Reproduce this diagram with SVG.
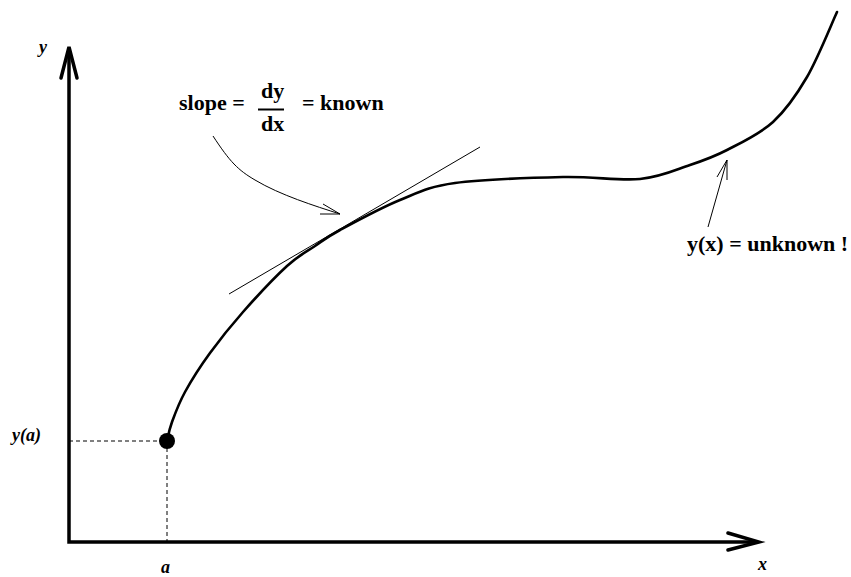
<svg xmlns="http://www.w3.org/2000/svg" width="851" height="577" viewBox="0 0 851 577">
<style>
.lbl{font-family:"Liberation Serif","Times New Roman",serif;font-weight:bold;fill:#000}
.it{font-style:italic;font-size:18px}
.big{font-size:22px}
.thin{fill:none;stroke:#000;stroke-width:1}
.axis{fill:none;stroke:#000;stroke-width:3.5}
.dash{fill:none;stroke:#000;stroke-width:1;stroke-dasharray:4,3}
</style>
<rect width="851" height="577" fill="#fff"/>
<g id="axes">
<path class="axis" d="M69,48 L69,542 L757,542" stroke-linejoin="miter"/>
<path class="axis" d="M61,78 L69,47 L77,78" stroke-linecap="round" stroke-linejoin="miter"/>
<path class="axis" d="M728,533 L759,542 L728,550" stroke-linecap="round" stroke-linejoin="miter"/>
<text class="lbl it" x="39" y="53">y</text>
<text class="lbl it" x="758" y="570">x</text>
</g>
<g id="guides">
<path class="dash" d="M69,441 L167,441"/>
<path class="dash" d="M167,441 L167,542"/>
<text class="lbl it" x="12" y="441">y(a)</text>
<text class="lbl it" x="161" y="573">a</text>
</g>
<g id="curve">
<path fill="none" stroke="#000" stroke-width="2.6" stroke-linecap="round" d="M167,441 C167.8,437.8 169,430.2 172,422 C175,413.8 178.7,403.5 185,392 C191.3,380.5 200.3,366.3 210,353 C219.7,339.7 230.2,326.5 243,312 C255.8,297.5 275,277 287,266 C299,255 306.2,252 315,246 C323.8,240 325.8,237.7 340,230 C354.2,222.3 380.8,207.8 400,200 C419.2,192.2 427.8,186.8 455,183 C482.2,179.2 532.2,177.7 563,177 C593.8,176.3 618.8,181 640,179 C661.2,177 675.5,169.8 690,165 C704.5,160.2 713.2,157.2 727,150 C740.8,142.8 759.7,134.2 773,122 C786.3,109.8 796.3,95.3 807,77 C817.7,58.7 832,22.8 837,12"/>
<circle cx="167" cy="441" r="8" fill="#000"/>
</g>
<g id="tangent">
<line class="thin" x1="229" y1="294" x2="480" y2="147"/>
</g>
<g id="slope-label">
<text class="lbl big" x="179" y="110">slope =</text>
<text class="lbl big" x="261" y="98">dy</text>
<line x1="258" y1="109.5" x2="284" y2="109.5" stroke="#000" stroke-width="2"/>
<text class="lbl big" x="261" y="131">dx</text>
<text class="lbl big" x="302" y="110">= known</text>
</g>
<g id="unknown-label">
<text class="lbl big" x="687" y="251">y(x) = unknown !</text>
</g>
<g id="connectors">
<path class="thin" d="M213,136 C230,162 238,170 255,180 C280,195 315,206 340,214"/>
<path class="thin" d="M323,204 L340,214 L320,214"/>
<path class="thin" d="M708,227 L727,160"/>
<path class="thin" d="M717,177 L727,160 L727,180"/>
</g>
</svg>
